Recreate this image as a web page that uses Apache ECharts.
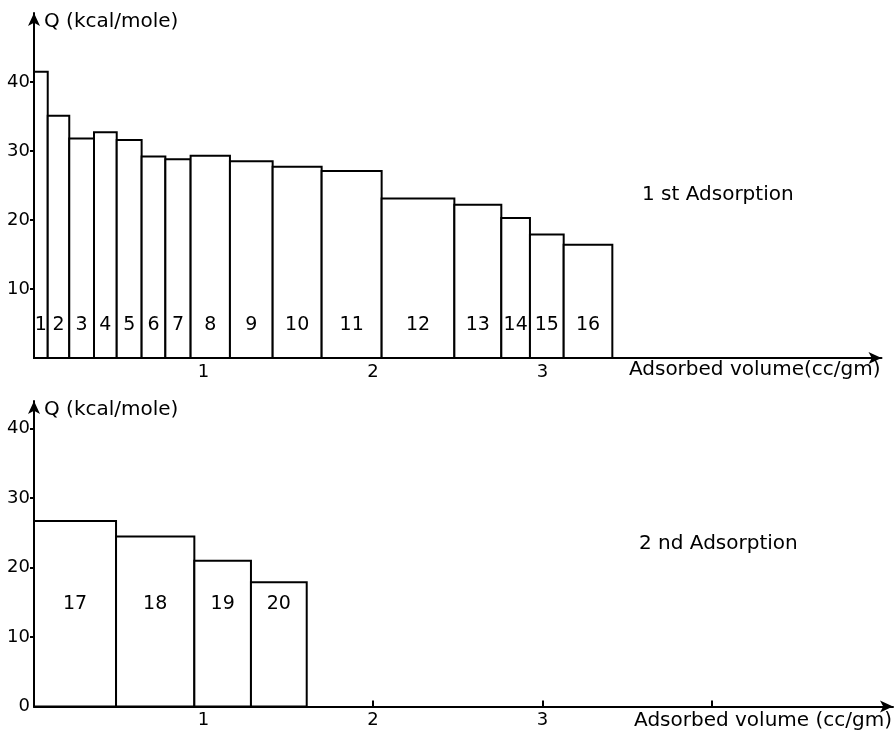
<!DOCTYPE html>
<html>
<head>
<meta charset="utf-8">
<script src="https://cdn.jsdelivr.net/npm/echarts@6/dist/echarts.min.js"></script>
<style>html,body{margin:0;padding:0;background:#fff;}#c{width:896px;height:735px;}</style>
</head>
<body>
<div id="c"></div>
<script>
// ---- data ----
var firstEdges = [0, 0.081, 0.208, 0.354, 0.488, 0.635, 0.775, 0.924, 1.156, 1.408, 1.697, 2.051, 2.480, 2.757, 2.926, 3.125, 3.412];
var firstQ = [41.5, 35.1, 31.8, 32.7, 31.6, 29.2, 28.8, 29.3, 28.5, 27.7, 27.1, 23.1, 22.2, 20.3, 17.9, 16.4];
var firstIds = [1, 2, 3, 4, 5, 6, 7, 8, 9, 10, 11, 12, 13, 14, 15, 16];
var secondEdges = [0, 0.484, 0.946, 1.280, 1.609];
var secondQ = [26.7, 24.5, 21.0, 17.9];
var secondIds = [17, 18, 19, 20];
var firstXLabels = [1, 2, 3];
var firstXTicks = [1, 2, 3];
var firstYTicks = [10, 20, 30, 40];
var secondXLabels = [1, 2, 3];
var secondXTicks = [1, 2, 3, 4];
var secondYTicks = [10, 20, 30, 40];
var secondYLabels = [0, 10, 20, 30, 40];

function rows(edges, q, ids) {
  var out = [];
  for (var i = 0; i < q.length; i++) out.push([edges[i], edges[i + 1], q[i], ids[i]]);
  return out;
}

var FONT = 'DejaVu Sans';
var chart = echarts.init(document.getElementById('c'), null, {renderer: 'canvas'});

function makeRender(labelQ) {
  return function (params, api) {
    var x0 = api.value(0), x1 = api.value(1), q = api.value(2);
    var pTop = api.coord([x0, q]);
    var pBot = api.coord([x1, 0]);
    var lp = api.coord([(x0 + x1) / 2, labelQ]);
    return {
      type: 'group',
      children: [
        {type: 'rect', shape: {x: pTop[0], y: pTop[1], width: pBot[0] - pTop[0], height: pBot[1] - pTop[1]},
         style: {fill: '#fff', stroke: '#000', lineWidth: 2}},
        {type: 'text', x: lp[0], y: lp[1],
         style: {text: String(api.value(3)), fill: '#000', font: '19px ' + FONT, align: 'center', verticalAlign: 'middle'}}
      ]
    };
  };
}

var axisLineStyle = {color: '#000', width: 2};

chart.setOption({
  animation: false,
  backgroundColor: '#fff',
  grid: [
    {left: 34, top: 13, width: 847.5, height: 345},
    {left: 34, top: 401, width: 859, height: 305.5}
  ],
  xAxis: [
    {
      gridIndex: 0, type: 'value', min: 0, max: 5,
      axisLine: {show: true, onZero: false, lineStyle: axisLineStyle, symbol: ['none', 'arrow'], symbolSize: [9, 13]},
      axisTick: {show: true, inside: true, length: 6, lineStyle: axisLineStyle, customValues: firstXTicks},
      axisLabel: {show: true, margin: 5, color: '#000', fontSize: 18, fontFamily: FONT, customValues: firstXLabels},
      splitLine: {show: false},
      name: 'Adsorbed volume(cc/gm)', nameLocation: 'end', nameGap: -1,
      nameTextStyle: {color: '#000', fontSize: 20, fontFamily: FONT, align: 'right', verticalAlign: 'top', padding: [2, 0, 0, 0]}
    },
    {
      gridIndex: 1, type: 'value', min: 0, max: 5.068,
      axisLine: {show: true, onZero: false, lineStyle: axisLineStyle, symbol: ['none', 'arrow'], symbolSize: [9, 13]},
      axisTick: {show: true, inside: true, length: 6, lineStyle: axisLineStyle, customValues: secondXTicks},
      axisLabel: {show: true, margin: 5, color: '#000', fontSize: 18, fontFamily: FONT, customValues: secondXLabels},
      splitLine: {show: false},
      name: 'Adsorbed volume (cc/gm)', nameLocation: 'end', nameGap: -1,
      nameTextStyle: {color: '#000', fontSize: 20, fontFamily: FONT, align: 'right', verticalAlign: 'top', padding: [4, 0, 0, 0]}
    }
  ],
  yAxis: [
    {
      gridIndex: 0, type: 'value', min: 0, max: 50,
      axisLine: {show: true, onZero: false, lineStyle: axisLineStyle, symbol: ['none', 'arrow'], symbolSize: [9, 13]},
      axisTick: {show: true, inside: false, length: 4, lineStyle: axisLineStyle, customValues: firstYTicks},
      axisLabel: {show: true, margin: 4, color: '#000', fontSize: 18, fontFamily: FONT, customValues: firstYTicks},
      splitLine: {show: false},
      name: 'Q (kcal/mole)', nameLocation: 'end', nameGap: -9,
      nameTextStyle: {color: '#000', fontSize: 20, fontFamily: FONT, align: 'left', verticalAlign: 'middle', padding: [0, 0, 0, 10]}
    },
    {
      gridIndex: 1, type: 'value', min: 0, max: 44,
      axisLine: {show: true, onZero: false, lineStyle: axisLineStyle, symbol: ['none', 'arrow'], symbolSize: [9, 13]},
      axisTick: {show: true, inside: false, length: 4, lineStyle: axisLineStyle, customValues: secondYTicks},
      axisLabel: {show: true, margin: 4, color: '#000', fontSize: 18, fontFamily: FONT, customValues: secondYLabels},
      splitLine: {show: false},
      name: 'Q (kcal/mole)', nameLocation: 'end', nameGap: -9,
      nameTextStyle: {color: '#000', fontSize: 20, fontFamily: FONT, align: 'left', verticalAlign: 'middle', padding: [0, 0, 0, 10]}
    }
  ],
  series: [
    {type: 'custom', xAxisIndex: 0, yAxisIndex: 0, renderItem: makeRender(4.8), data: rows(firstEdges, firstQ, firstIds), z: 1},
    {type: 'custom', xAxisIndex: 1, yAxisIndex: 1, renderItem: makeRender(14.7), data: rows(secondEdges, secondQ, secondIds), z: 1}
  ],
  graphic: [
    {type: 'text', left: 642, top: 185, style: {text: '1 st Adsorption', fill: '#000', font: '20px ' + FONT}},
    {type: 'text', left: 639, top: 534, style: {text: '2 nd Adsorption', fill: '#000', font: '20px ' + FONT}}
  ]
});
</script>
</body>
</html>
